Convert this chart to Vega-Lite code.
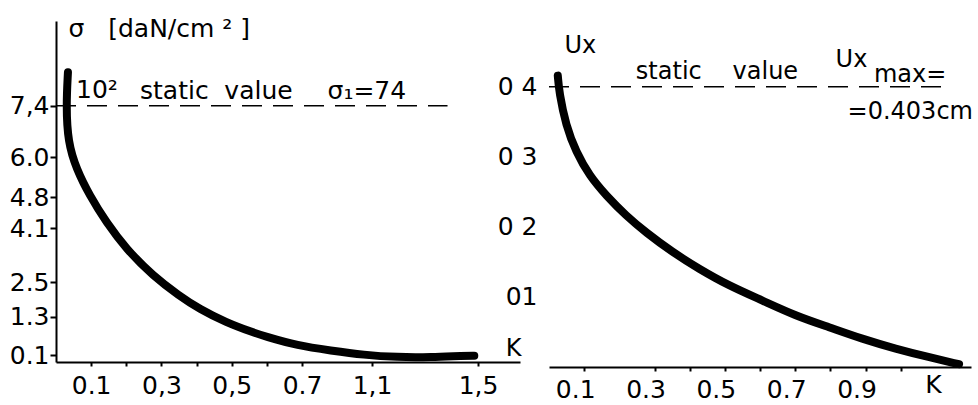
{
  "$schema": "https://vega.github.io/schema/vega-lite/v6.json",
  "background": "white",
  "padding": {"left": 9, "top": 16, "right": 0, "bottom": 0},
  "bounds": "flush",
  "spacing": 29,
  "config": {
    "font": "DejaVu Sans",
    "view": {"stroke": null},
    "axis": {
      "domainColor": "black", "domainWidth": 2, "tickColor": "black", "tickWidth": 2,
      "labelColor": "black", "titleColor": "black", "labelFontSize": 25, "labelFont": "DejaVu Sans",
      "titleFont": "DejaVu Sans", "titleFontWeight": "normal", "grid": false,
      "labelOverlap": false, "labelFlush": false, "titleFontSize": 25
    },
    "text": {"color": "black", "font": "DejaVu Sans"}
  },
  "hconcat": [
    {
      "width": 464,
      "height": 341,
      "encoding": {
        "x": {
          "field": "K", "type": "quantitative",
          "scale": {"domain": [0, 0.7, 1.1, 1.5, 1.66], "range": [0, 246, 316, 422, 464], "nice": false, "zero": false},
          "axis": {
            "values": [0.1, 0.2, 0.3, 0.4, 0.5, 0.6, 0.7, 1.1, 1.5],
            "labelExpr": "datum.value == 0.1 ? '0.1' : datum.value == 0.3 ? '0,3' : datum.value == 0.5 ? '0,5' : datum.value == 0.7 ? '0.7' : datum.value == 1.1 ? '1,1' : datum.value == 1.5 ? '1,5' : ''",
            "tickSize": 4, "labelPadding": 7,
            "title": "K", "titleX": 457, "titleY": -14, "titleBaseline": "middle", "titleAlign": "center", "titleFontSize": 24
          }
        },
        "y": {
          "field": "s", "type": "quantitative",
          "scale": {"domain": [-0.12, 0.1, 1.3, 2.5, 4.1, 4.8, 6.0, 7.4, 9.7], "range": [341, 334, 295.7, 261.3, 207, 176.3, 136.3, 84.7, 0], "nice": false, "zero": false},
          "axis": {
            "values": [0.1, 1.3, 2.5, 4.1, 4.8, 6.0, 7.4],
            "labelExpr": "datum.value == 7.4 ? '7,4' : format(datum.value, '.1f')",
            "tickSize": 6, "labelPadding": 1,
            "title": "σ\u00a0\u00a0\u00a0[daN/cm\u00a0²\u00a0]", "titleAngle": 0, "titleX": 12, "titleY": 15,
            "titleAlign": "left", "titleBaseline": "alphabetic", "titleFontSize": 25
          }
        }
      },
      "layer": [
        {
          "data": {"values": [{"K": 0, "K2": 1.385, "s": 7.4}]},
          "mark": {"type": "rule", "color": "black", "strokeWidth": 1.5, "strokeDash": [20, 11]},
          "encoding": {"x2": {"field": "K2"}}
        },
        {
          "data": {"values": [
            {"i": 0, "K": 0.034, "s": 8.31},
            {"i": 1, "K": 0.029, "s": 7.40},
            {"i": 2, "K": 0.034, "s": 6.41},
            {"i": 3, "K": 0.058, "s": 5.65},
            {"i": 4, "K": 0.096, "s": 4.85},
            {"i": 5, "K": 0.143, "s": 4.23},
            {"i": 6, "K": 0.200, "s": 3.48},
            {"i": 7, "K": 0.276, "s": 2.69},
            {"i": 8, "K": 0.351, "s": 2.03},
            {"i": 9, "K": 0.408, "s": 1.57},
            {"i": 10, "K": 0.484, "s": 1.12},
            {"i": 11, "K": 0.560, "s": 0.81},
            {"i": 12, "K": 0.593, "s": 0.69},
            {"i": 13, "K": 0.688, "s": 0.39},
            {"i": 14, "K": 0.864, "s": 0.24},
            {"i": 15, "K": 1.054, "s": 0.10},
            {"i": 16, "K": 1.195, "s": 0.03},
            {"i": 17, "K": 1.322, "s": 0.03},
            {"i": 18, "K": 1.448, "s": 0.08},
            {"i": 19, "K": 1.486, "s": 0.08}
          ]},
          "mark": {"type": "line", "color": "black", "strokeWidth": 8, "strokeCap": "round", "strokeJoin": "round", "interpolate": "basis"},
          "encoding": {"order": {"field": "i", "type": "quantitative"}}
        },
        {
          "data": {"values": [
            {"K": 0.057, "s": 7.61, "t": "10²"},
            {"K": 0.239, "s": 7.58, "t": "static"},
            {"K": 0.479, "s": 7.58, "t": "value"},
            {"K": 0.846, "s": 7.58, "t": "σ₁=74"}
          ]},
          "mark": {"type": "text", "align": "left", "baseline": "alphabetic", "fontSize": 25, "color": "black"},
          "encoding": {"text": {"field": "t"}}
        },
        {
          "data": {"values": [{}]},
          "mark": {"type": "point", "shape": "triangle-up", "filled": true, "color": "black", "size": 70, "opacity": 1},
          "encoding": {"x": {"datum": 0, "type": "quantitative"}, "y": {"datum": 9.7, "type": "quantitative"}}
        },
        {
          "data": {"values": [{}]},
          "mark": {"type": "point", "shape": "triangle-right", "filled": true, "color": "black", "size": 70, "opacity": 1},
          "encoding": {"x": {"datum": 1.66, "type": "quantitative"}, "y": {"datum": -0.12, "type": "quantitative"}}
        }
      ]
    },
    {
      "width": 422,
      "height": 346,
      "encoding": {
        "x": {
          "field": "K", "type": "quantitative",
          "scale": {"domain": [0, 1.2], "nice": false, "zero": false},
          "axis": {
            "values": [0.1, 0.3, 0.4, 0.5, 0.6, 0.7, 0.8, 0.9, 1.0],
            "labelExpr": "indexof([0.1, 0.3, 0.5, 0.7, 0.9], datum.value) >= 0 ? format(datum.value, '.1f') : ''",
            "tickSize": 4, "labelPadding": 6, "labelOffset": -9,
            "title": "K", "titleX": 384, "titleY": 17, "titleBaseline": "middle", "titleAlign": "center", "titleFontSize": 25
          }
        },
        "y": {
          "field": "u", "type": "quantitative",
          "scale": {"domain": [0, 0.494], "nice": false, "zero": false},
          "axis": {
            "values": [0.1, 0.2, 0.3, 0.4],
            "labelExpr": "datum.value == 0.1 ? '01' : replace(format(datum.value, '.1f'), '.', ' ')",
            "ticks": false, "tickSize": 0, "labelPadding": 12, "domain": false,
            "title": "Ux", "titleAngle": 0, "titleX": 15, "titleY": 31,
            "titleAlign": "left", "titleBaseline": "alphabetic", "titleFontSize": 24
          }
        }
      },
      "layer": [
        {
          "data": {"values": [{"K": 0, "K2": 1.134, "u": 0.4}]},
          "mark": {"type": "rule", "color": "black", "strokeWidth": 1.5, "strokeDash": [20, 11]},
          "encoding": {"x2": {"field": "K2"}}
        },
        {
          "data": {"values": [{}]},
          "mark": {"type": "rule", "color": "black", "strokeWidth": 2},
          "encoding": {"x": {"datum": 0, "type": "quantitative"}, "y": {"datum": 0, "type": "quantitative"}, "y2": {"datum": 0.469}}
        },
        {
          "data": {"values": [
            {"i": 0, "K": 0.025, "u": 0.416},
            {"i": 1, "K": 0.029, "u": 0.392},
            {"i": 2, "K": 0.048, "u": 0.345},
            {"i": 3, "K": 0.077, "u": 0.307},
            {"i": 4, "K": 0.115, "u": 0.273},
            {"i": 5, "K": 0.162, "u": 0.245},
            {"i": 6, "K": 0.219, "u": 0.216},
            {"i": 7, "K": 0.276, "u": 0.192},
            {"i": 8, "K": 0.351, "u": 0.164},
            {"i": 9, "K": 0.427, "u": 0.140},
            {"i": 10, "K": 0.512, "u": 0.116},
            {"i": 11, "K": 0.607, "u": 0.095},
            {"i": 12, "K": 0.702, "u": 0.073},
            {"i": 13, "K": 0.796, "u": 0.057},
            {"i": 14, "K": 0.891, "u": 0.040},
            {"i": 15, "K": 0.986, "u": 0.026},
            {"i": 16, "K": 1.080, "u": 0.014},
            {"i": 17, "K": 1.166, "u": 0.004}
          ]},
          "mark": {"type": "line", "color": "black", "strokeWidth": 8, "strokeCap": "round", "strokeJoin": "round", "interpolate": "basis"},
          "encoding": {"order": {"field": "i", "type": "quantitative"}}
        },
        {
          "data": {"values": [
            {"K": 0.247, "u": 0.411, "t": "static"},
            {"K": 0.522, "u": 0.411, "t": "value"},
            {"K": 0.924, "u": 0.407, "t": "max="},
            {"K": 0.849, "u": 0.354, "t": "=0.403cm"}
          ]},
          "mark": {"type": "text", "align": "left", "baseline": "alphabetic", "fontSize": 24, "color": "black"},
          "encoding": {"text": {"field": "t"}}
        },
        {
          "data": {"values": [{"K": 0.815, "u": 0.428, "t": "Ux"}]},
          "mark": {"type": "text", "align": "left", "baseline": "alphabetic", "fontSize": 24, "color": "black"},
          "encoding": {"text": {"field": "t"}}
        },
        {
          "data": {"values": [{}]},
          "mark": {"type": "point", "shape": "triangle-up", "filled": true, "color": "black", "size": 70, "opacity": 1},
          "encoding": {"x": {"datum": 0, "type": "quantitative"}, "y": {"datum": 0.469, "type": "quantitative"}}
        },
        {
          "data": {"values": [{}]},
          "mark": {"type": "point", "shape": "triangle-right", "filled": true, "color": "black", "size": 70, "opacity": 1},
          "encoding": {"x": {"datum": 1.19, "type": "quantitative"}, "y": {"datum": 0, "type": "quantitative"}}
        }
      ]
    }
  ]
}
